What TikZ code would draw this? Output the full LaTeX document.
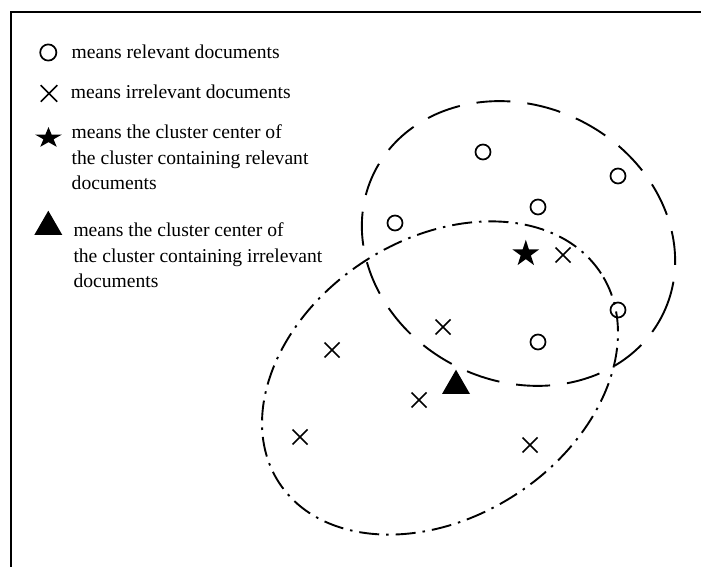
\documentclass[tikz,border=0pt]{standalone}
\usepackage{fontspec}
\setmainfont{Liberation Serif}
\begin{document}
\begin{tikzpicture}[x=1pt,y=1pt,
  lbl/.style={inner sep=0pt, anchor=base west, font=\fontsize{19.6}{25.4}\selectfont},
  relmark/.pic={\draw[line width=1.7pt] (0,0) circle[radius=7.5pt];},
  irrmark/.pic={\draw[line width=1.7pt] (-7.5,-7.5)--(7.5,7.5) (-7.5,7.5)--(7.5,-7.5);},
  starmark/.pic={\fill (90:14) -- (126:5.35) -- (162:14) -- (198:5.35) -- (234:14) -- (270:5.35) -- (306:14) -- (342:5.35) -- (18:14) -- (54:5.35) -- cycle;},
  trimark/.pic={\fill (-14,0) -- (14,0) -- (0,24.3) -- cycle;},
  relclust/.style={line width=1.9pt, dash pattern=on 34pt off 17pt},
  irrclust/.style={line width=1.9pt, dash pattern=on 20pt off 7pt on 2.5pt off 7pt},
  frameline/.style={line width=2pt}
]
\useasboundingbox (0,0) rectangle (701,567);
% frame
\draw[frameline] (10.5,0) -- (10.5,554.7) -- (701,554.7);

% legend
\pic[scale=1.08] at (48.3,514.5) {relmark};
\node[lbl] (t1) at (71.5,508) {means relevant documents};
\pic[scale=1.1] at (49,473.5) {irrmark};
\node[lbl] (t2) at (70.7,468) {means irrelevant documents};
\pic[yscale=0.78] at (48.5,429) {starmark};
\node[lbl] (t3) at (71.5,428) {\begin{tabular}[t]{@{}l@{}}means the cluster center of\\the cluster containing relevant\\documents\end{tabular}};
\pic at (48.3,332) {trimark};
\node[lbl] (t4) at (73.3,330) {\begin{tabular}[t]{@{}l@{}}means the cluster center of\\the cluster containing irrelevant\\documents\end{tabular}};

% clusters
\coordinate (relc) at (518.5,323.5);
\draw[relclust, rotate around={-26:(relc)}] (relc) ellipse[x radius=160.8pt, y radius=137.6pt];
\coordinate (irrc) at (440,189);
\draw[irrclust, rotate around={33:(irrc)}] (irrc) ellipse[x radius=192pt, y radius=139pt];

% relevant documents
\foreach \p in {(483,415),(618,391),(538,360),(395,344),(618,257),(538,225)}
  \pic at \p {relmark};
% irrelevant documents
\foreach \p in {(563,312),(443,240),(332,217),(419,167),(300,130),(530,122)}
  \pic at \p {irrmark};
% centers
\pic at (525.8,313.2) {starmark};
\pic at (456,173) {trimark};
\end{tikzpicture}
\end{document}
